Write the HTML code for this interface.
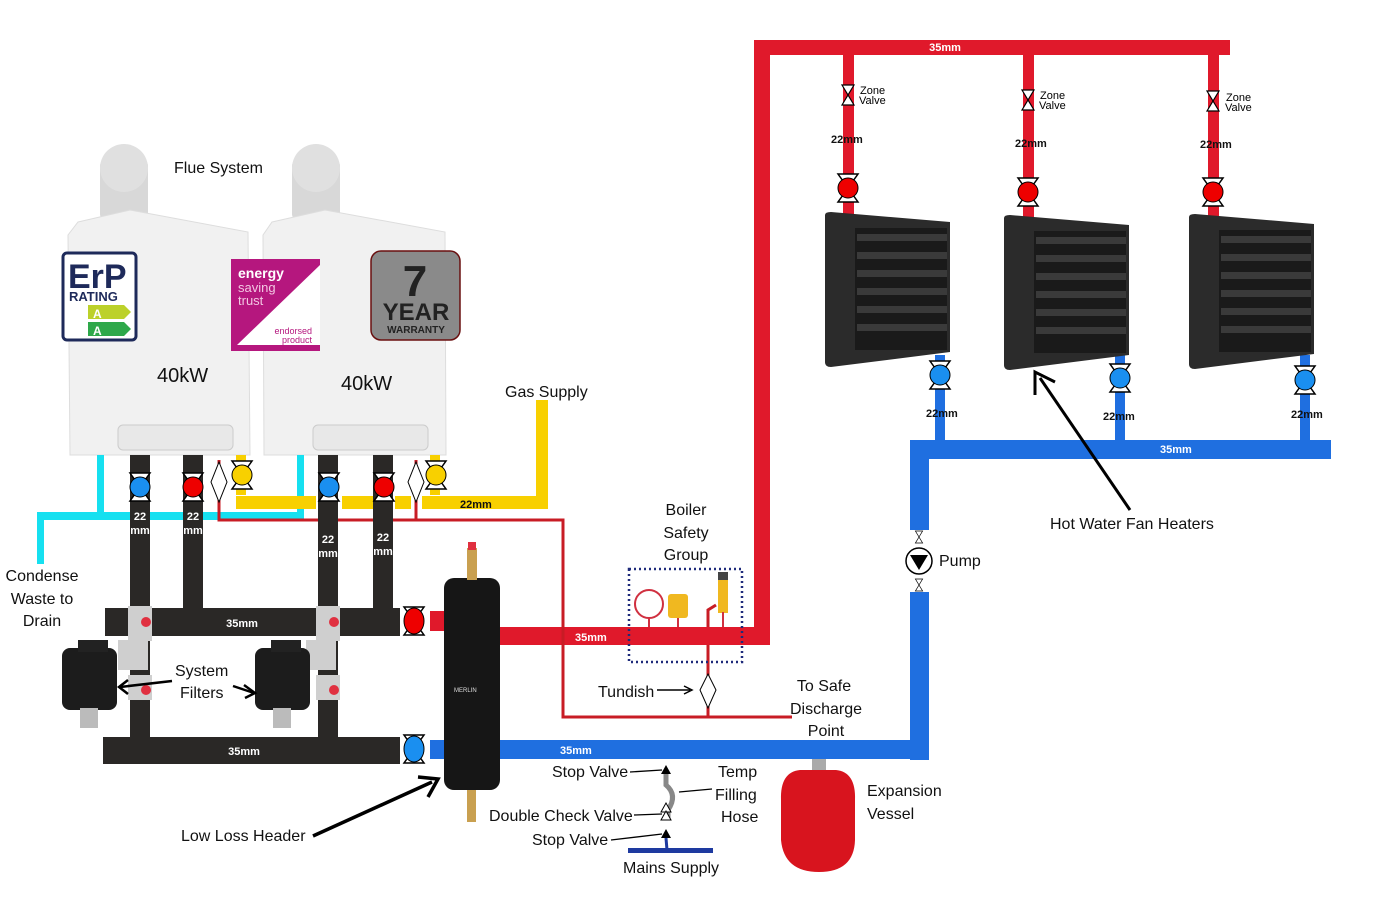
<!DOCTYPE html>
<html><head><meta charset="utf-8"><style>
html,body{margin:0;padding:0;background:#fff;}
svg{display:block;font-family:"Liberation Sans",sans-serif;}
.t{font-size:16px;fill:#111;}
.s{font-size:11px;font-weight:bold;fill:#fff;}
.k{font-size:11px;font-weight:bold;fill:#111;}
</style></head><body>
<svg width="1381" height="905" viewBox="0 0 1381 905" xmlns="http://www.w3.org/2000/svg">
<defs>
<g id="bt"><polygon points="-10,-14 10,-14 -10,14 10,14" fill="#fff" stroke="#000" stroke-width="1.5"/></g>
<g id="zv"><polygon points="-6,-10 6,-10 -6,10 6,10" fill="#fff" stroke="#000" stroke-width="1.2"/></g>
<g id="heater">
<path d="M0,3 Q0,0 6,0 L125,10 L125,140 L6,155 Q0,155 0,150 Z" fill="#2b2b2b"/>
<rect x="30" y="16" width="92" height="122" fill="#1a1a1a"/>
<g fill="#3a3a3a"><rect x="32" y="22" width="90" height="7"/><rect x="32" y="40" width="90" height="7"/><rect x="32" y="58" width="90" height="7"/><rect x="32" y="76" width="90" height="7"/><rect x="32" y="94" width="90" height="7"/><rect x="32" y="112" width="90" height="7"/></g>
</g>
</defs>

<!-- Red flow main -->
<rect x="754" y="40" width="16" height="605" fill="#e0192b"/>
<rect x="754" y="40" width="476" height="15" fill="#e0192b"/>
<text x="945" y="51" class="s" text-anchor="middle">35mm</text>
<rect x="500" y="627" width="270" height="18" fill="#e0192b"/>
<text x="575" y="641" class="s">35mm</text>
<!-- drops -->
<rect x="843" y="55" width="11" height="160" fill="#e0192b"/>
<rect x="1023" y="55" width="11" height="165" fill="#e0192b"/>
<rect x="1208" y="55" width="11" height="165" fill="#e0192b"/>
<use href="#zv" x="848" y="95"/><use href="#zv" x="1028" y="100"/><use href="#zv" x="1213" y="101"/>
<text x="860" y="94" font-size="11">Zone</text><text x="859" y="104" font-size="11">Valve</text>
<text x="1040" y="99" font-size="11">Zone</text><text x="1039" y="109" font-size="11">Valve</text>
<text x="1226" y="101" font-size="11">Zone</text><text x="1225" y="111" font-size="11">Valve</text>
<text x="831" y="143" class="k">22mm</text><text x="1015" y="147" class="k">22mm</text><text x="1200" y="148" class="k">22mm</text>
<use href="#bt" x="848" y="188"/><circle cx="848" cy="188" r="10" fill="#e00" stroke="#000"/>
<use href="#bt" x="1028" y="192"/><circle cx="1028" cy="192" r="10" fill="#e00" stroke="#000"/>
<use href="#bt" x="1213" y="192"/><circle cx="1213" cy="192" r="10" fill="#e00" stroke="#000"/>

<!-- Blue return -->
<rect x="935" y="355" width="10" height="90" fill="#1f6fe0"/>
<rect x="1115" y="355" width="10" height="90" fill="#1f6fe0"/>
<rect x="1300" y="355" width="10" height="90" fill="#1f6fe0"/>
<rect x="910" y="440" width="421" height="19" fill="#1f6fe0"/>
<text x="1160" y="453" class="s">35mm</text>
<rect x="910" y="440" width="19" height="90" fill="#1f6fe0"/>
<rect x="910" y="592" width="19" height="168" fill="#1f6fe0"/>
<rect x="430" y="740" width="499" height="19" fill="#1f6fe0"/>
<text x="560" y="754" class="s">35mm</text>
<g transform="translate(919,537) scale(0.6)"><use href="#zv"/></g>
<g transform="translate(919,585) scale(0.6)"><use href="#zv"/></g>
<circle cx="919" cy="561" r="13" fill="#fff" stroke="#000" stroke-width="1.5"/>
<polygon points="910,555 928,555 919,570" fill="#000"/>
<text x="939" y="566" class="t">Pump</text>

<!-- heaters -->
<use href="#heater" x="825" y="212"/>
<use href="#heater" x="1004" y="215"/>
<use href="#heater" x="1189" y="214"/>
<use href="#bt" x="940" y="375"/><circle cx="940" cy="375" r="10" fill="#1a8ff0" stroke="#000"/>
<use href="#bt" x="1120" y="378"/><circle cx="1120" cy="378" r="10" fill="#1a8ff0" stroke="#000"/>
<use href="#bt" x="1305" y="380"/><circle cx="1305" cy="380" r="10" fill="#1a8ff0" stroke="#000"/>
<text x="926" y="417" class="k">22mm</text><text x="1103" y="420" class="k">22mm</text><text x="1291" y="418" class="k">22mm</text>
<line x1="1130" y1="510" x2="1040" y2="378" stroke="#000" stroke-width="3"/>
<polyline points="1035,395 1035,372 1055,382" fill="none" stroke="#000" stroke-width="3"/>
<text x="1050" y="529" class="t">Hot Water Fan Heaters</text>

<!-- Boilers -->
<rect x="100" y="160" width="48" height="60" rx="6" fill="#d8d8d8"/><circle cx="124" cy="168" r="24" fill="#e0e0e0"/>
<rect x="292" y="160" width="48" height="60" rx="6" fill="#d8d8d8"/><circle cx="316" cy="168" r="24" fill="#e0e0e0"/>
<path d="M78,222 L130,210 L248,232 L250,455 L70,455 L68,235 Z" fill="#f1f1f1" stroke="#ddd"/>
<path d="M272,222 L325,210 L445,232 L446,455 L264,455 L263,235 Z" fill="#f1f1f1" stroke="#ddd"/>
<rect x="118" y="425" width="115" height="25" rx="5" fill="#e8e8e8" stroke="#ccc"/>
<rect x="313" y="425" width="115" height="25" rx="5" fill="#e8e8e8" stroke="#ccc"/>
<text x="174" y="173" class="t">Flue System</text>
<text x="157" y="382" font-size="20" fill="#111">40kW</text>
<text x="341" y="390" font-size="20" fill="#111">40kW</text>
<!-- ErP -->
<rect x="63" y="253" width="73" height="87" rx="4" fill="#fff" stroke="#1e2a5a" stroke-width="3"/>
<text x="68" y="288" font-size="34" font-weight="bold" fill="#1e2a5a">ErP</text>
<text x="69" y="301" font-size="13" font-weight="bold" fill="#1e2a5a">RATING</text>
<polygon points="88,305 124,305 131,312 124,319 88,319" fill="#bcd12a"/>
<polygon points="88,322 124,322 131,329 124,336 88,336" fill="#2ea84a"/>
<text x="93" y="318" font-size="12" font-weight="bold" fill="#fff">A</text>
<text x="93" y="335" font-size="12" font-weight="bold" fill="#fff">A</text>
<!-- EST -->
<rect x="231" y="259" width="89" height="92" fill="#b5177e"/>
<polygon points="320,265 320,345 237,345" fill="#fff"/>
<text x="238" y="278" font-size="14" font-weight="bold" fill="#fff">energy</text>
<text x="238" y="292" font-size="13" fill="#f2c6e2">saving</text>
<text x="238" y="305" font-size="13" fill="#f2c6e2">trust</text>
<text x="312" y="334" font-size="9" fill="#b5177e" text-anchor="end">endorsed</text>
<text x="312" y="343" font-size="9" fill="#b5177e" text-anchor="end">product</text>
<!-- 7 year -->
<rect x="371" y="251" width="89" height="89" rx="10" fill="#8a8a8a" stroke="#6a1010" stroke-width="1.5"/>
<text x="415" y="296" font-size="44" font-weight="bold" fill="#222" text-anchor="middle">7</text>
<text x="416" y="320" font-size="24" font-weight="bold" fill="#222" text-anchor="middle">YEAR</text>
<text x="416" y="333" font-size="10" font-weight="bold" fill="#222" text-anchor="middle">WARRANTY</text>

<!-- condense cyan -->
<rect x="97" y="455" width="7" height="64" fill="#16e0f0"/>
<rect x="297" y="455" width="7" height="66" fill="#16e0f0"/>
<rect x="37" y="512" width="267" height="8" fill="#16e0f0"/>
<rect x="37" y="512" width="7" height="52" fill="#16e0f0"/>
<text x="42" y="581" class="t" text-anchor="middle">Condense</text>
<text x="42" y="604" class="t" text-anchor="middle">Waste to</text>
<text x="42" y="626" class="t" text-anchor="middle">Drain</text>

<!-- gas yellow -->
<rect x="236" y="455" width="10" height="40" fill="#f8d000"/>
<rect x="430" y="455" width="10" height="40" fill="#f8d000"/>
<rect x="236" y="496" width="80" height="13" fill="#f8d000"/>
<rect x="342" y="496" width="35" height="13" fill="#f8d000"/>
<rect x="395" y="496" width="16" height="13" fill="#f8d000"/>
<rect x="422" y="496" width="126" height="13" fill="#f8d000"/>
<rect x="536" y="400" width="12" height="109" fill="#f8d000"/>
<text x="460" y="508" class="k">22mm</text>
<text x="505" y="397" class="t">Gas Supply</text>

<!-- dark red discharge -->
<g stroke="#c81c25" stroke-width="3" fill="none">
<polyline points="219,460 219,520 563,520 563,717 792,717"/>
<line x1="416" y1="460" x2="416" y2="520"/>
<line x1="708" y1="645" x2="708" y2="717"/>
<polyline points="708,627 708,610 716,605"/>
</g>

<!-- black pipes -->
<g fill="#2a2826">
<rect x="130" y="455" width="20" height="308"/>
<rect x="183" y="455" width="20" height="160"/>
<rect x="318" y="455" width="20" height="308"/>
<rect x="373" y="455" width="20" height="160"/>
<rect x="105" y="608" width="295" height="28"/>
<rect x="103" y="737" width="297" height="27"/>
</g>
<text x="140" y="520" class="s" text-anchor="middle">22</text><text x="140" y="534" class="s" text-anchor="middle">mm</text>
<text x="193" y="520" class="s" text-anchor="middle">22</text><text x="193" y="534" class="s" text-anchor="middle">mm</text>
<text x="328" y="543" class="s" text-anchor="middle">22</text><text x="328" y="557" class="s" text-anchor="middle">mm</text>
<text x="383" y="541" class="s" text-anchor="middle">22</text><text x="383" y="555" class="s" text-anchor="middle">mm</text>
<text x="242" y="627" class="s" text-anchor="middle">35mm</text>
<text x="244" y="755" class="s" text-anchor="middle">35mm</text>
<!-- boiler valves -->
<use href="#bt" x="140" y="487"/><circle cx="140" cy="487" r="10" fill="#1a8ff0" stroke="#000"/>
<use href="#bt" x="193" y="487"/><circle cx="193" cy="487" r="10" fill="#e00" stroke="#000"/>
<use href="#bt" x="329" y="487"/><circle cx="329" cy="487" r="10" fill="#1a8ff0" stroke="#000"/>
<use href="#bt" x="384" y="487"/><circle cx="384" cy="487" r="10" fill="#e00" stroke="#000"/>
<use href="#bt" x="242" y="475"/><circle cx="242" cy="475" r="10" fill="#f8d000" stroke="#000"/>
<use href="#bt" x="436" y="475"/><circle cx="436" cy="475" r="10" fill="#f8d000" stroke="#000"/>
<polygon points="219,462 227,482 219,502 211,482" fill="#fff" stroke="#000"/>
<polygon points="416,462 424,482 416,502 408,482" fill="#fff" stroke="#000"/>
<!-- fittings -->
<g fill="#cfcfcf"><rect x="128" y="606" width="24" height="35"/><rect x="316" y="606" width="24" height="35"/><rect x="128" y="675" width="24" height="25"/><rect x="316" y="675" width="24" height="25"/>
<rect x="118" y="640" width="30" height="30"/><rect x="306" y="640" width="30" height="30"/></g>
<g fill="#e03040"><circle cx="146" cy="622" r="5"/><circle cx="334" cy="622" r="5"/><circle cx="146" cy="690" r="5"/><circle cx="334" cy="690" r="5"/></g>
<!-- filters -->
<rect x="62" y="648" width="55" height="62" rx="8" fill="#1c1c1c"/><rect x="78" y="640" width="30" height="12" fill="#222"/>
<rect x="80" y="708" width="18" height="20" fill="#bbb"/>
<rect x="255" y="648" width="55" height="62" rx="8" fill="#1c1c1c"/><rect x="271" y="640" width="30" height="12" fill="#222"/>
<rect x="273" y="708" width="18" height="20" fill="#bbb"/>
<text x="175" y="676" class="t">System</text><text x="180" y="698" class="t">Filters</text>
<g stroke="#000" stroke-width="2.5" fill="none">
<line x1="172" y1="681" x2="120" y2="687"/><polyline points="128,680 119,687 128,694"/>
<line x1="233" y1="686" x2="254" y2="693"/><polyline points="244,685 255,693 245,698"/>
</g>

<!-- header valves + header -->
<rect x="430" y="611" width="20" height="20" fill="#e0192b"/>
<rect x="430" y="740" width="20" height="19" fill="#1f6fe0"/>
<use href="#bt" x="414" y="621"/><ellipse cx="414" cy="621" rx="10" ry="13" fill="#e00" stroke="#000"/>
<use href="#bt" x="414" y="749"/><ellipse cx="414" cy="749" rx="10" ry="13" fill="#1a8ff0" stroke="#000"/>
<rect x="444" y="578" width="56" height="212" rx="10" fill="#161616"/>
<rect x="467" y="548" width="10" height="32" fill="#c9a050"/><rect x="468" y="542" width="8" height="8" fill="#e03040"/>
<rect x="467" y="790" width="9" height="32" fill="#c9a050"/>
<text x="454" y="692" font-size="6" fill="#ddd">MERLIN</text>
<line x1="313" y1="836" x2="432" y2="782" stroke="#000" stroke-width="3.5"/>
<polyline points="418,777 438,779 428,797" fill="none" stroke="#000" stroke-width="3.5"/>
<text x="181" y="841" class="t">Low Loss Header</text>

<!-- safety group -->
<text x="686" y="515" class="t" text-anchor="middle">Boiler</text>
<text x="686" y="538" class="t" text-anchor="middle">Safety</text>
<text x="686" y="560" class="t" text-anchor="middle">Group</text>
<rect x="629" y="569" width="113" height="93" fill="none" stroke="#1e2a7a" stroke-width="2.5" stroke-dasharray="2,3"/>
<circle cx="649" cy="604" r="14" fill="#fff" stroke="#d03040" stroke-width="2"/>
<line x1="649" y1="618" x2="649" y2="627" stroke="#d03040" stroke-width="2"/>
<rect x="668" y="594" width="20" height="24" rx="3" fill="#f0b820"/><line x1="678" y1="618" x2="678" y2="627" stroke="#d03040" stroke-width="2"/>
<rect x="718" y="573" width="10" height="40" fill="#f0b820"/><rect x="718" y="572" width="10" height="8" fill="#444"/>
<line x1="723" y1="612" x2="723" y2="627" stroke="#d03040" stroke-width="2"/>
<polygon points="708,674 716,690 708,708 700,690" fill="#fff" stroke="#000"/>
<text x="598" y="697" class="t">Tundish</text>
<line x1="657" y1="690" x2="690" y2="690" stroke="#000" stroke-width="1.5"/><polyline points="684,686 692,690 684,694" fill="none" stroke="#000" stroke-width="1.5"/>
<text x="824" y="691" class="t" text-anchor="middle">To Safe</text>
<text x="826" y="714" class="t" text-anchor="middle">Discharge</text>
<text x="826" y="736" class="t" text-anchor="middle">Point</text>

<!-- filling loop -->
<path d="M666,770 L666,785 Q678,795 668,810 L668,820" stroke="#888" stroke-width="5" fill="none"/>
<polygon points="661,774 671,774 666,765" fill="#000"/>
<polygon points="661,812 671,812 666,803" fill="#fff" stroke="#000"/>
<polygon points="661,820 671,820 666,811" fill="#fff" stroke="#000"/>
<polygon points="661,838 671,838 666,829" fill="#000"/>
<line x1="666" y1="838" x2="667" y2="850" stroke="#1e3aa0" stroke-width="3"/>
<rect x="628" y="848" width="85" height="5" fill="#1e3aa0"/>
<text x="552" y="777" class="t">Stop Valve</text>
<text x="489" y="821" class="t">Double Check Valve</text>
<text x="532" y="845" class="t">Stop Valve</text>
<text x="623" y="873" class="t">Mains Supply</text>
<text x="718" y="777" class="t">Temp</text>
<text x="715" y="800" class="t">Filling</text>
<text x="721" y="822" class="t">Hose</text>
<g stroke="#000" stroke-width="1.3" fill="none">
<line x1="630" y1="772" x2="662" y2="770"/><line x1="634" y1="815" x2="662" y2="814"/><line x1="611" y1="840" x2="662" y2="834"/><line x1="712" y1="789" x2="679" y2="792"/>
</g>
<!-- expansion vessel -->
<rect x="812" y="759" width="14" height="12" fill="#aaa"/>
<path d="M800,770 Q780,772 781,800 L781,840 Q784,872 819,872 Q854,872 855,840 L855,800 Q856,772 836,770 Z" fill="#d8141e"/>
<text x="867" y="796" class="t">Expansion</text>
<text x="867" y="819" class="t">Vessel</text>
</svg>
</body></html>
